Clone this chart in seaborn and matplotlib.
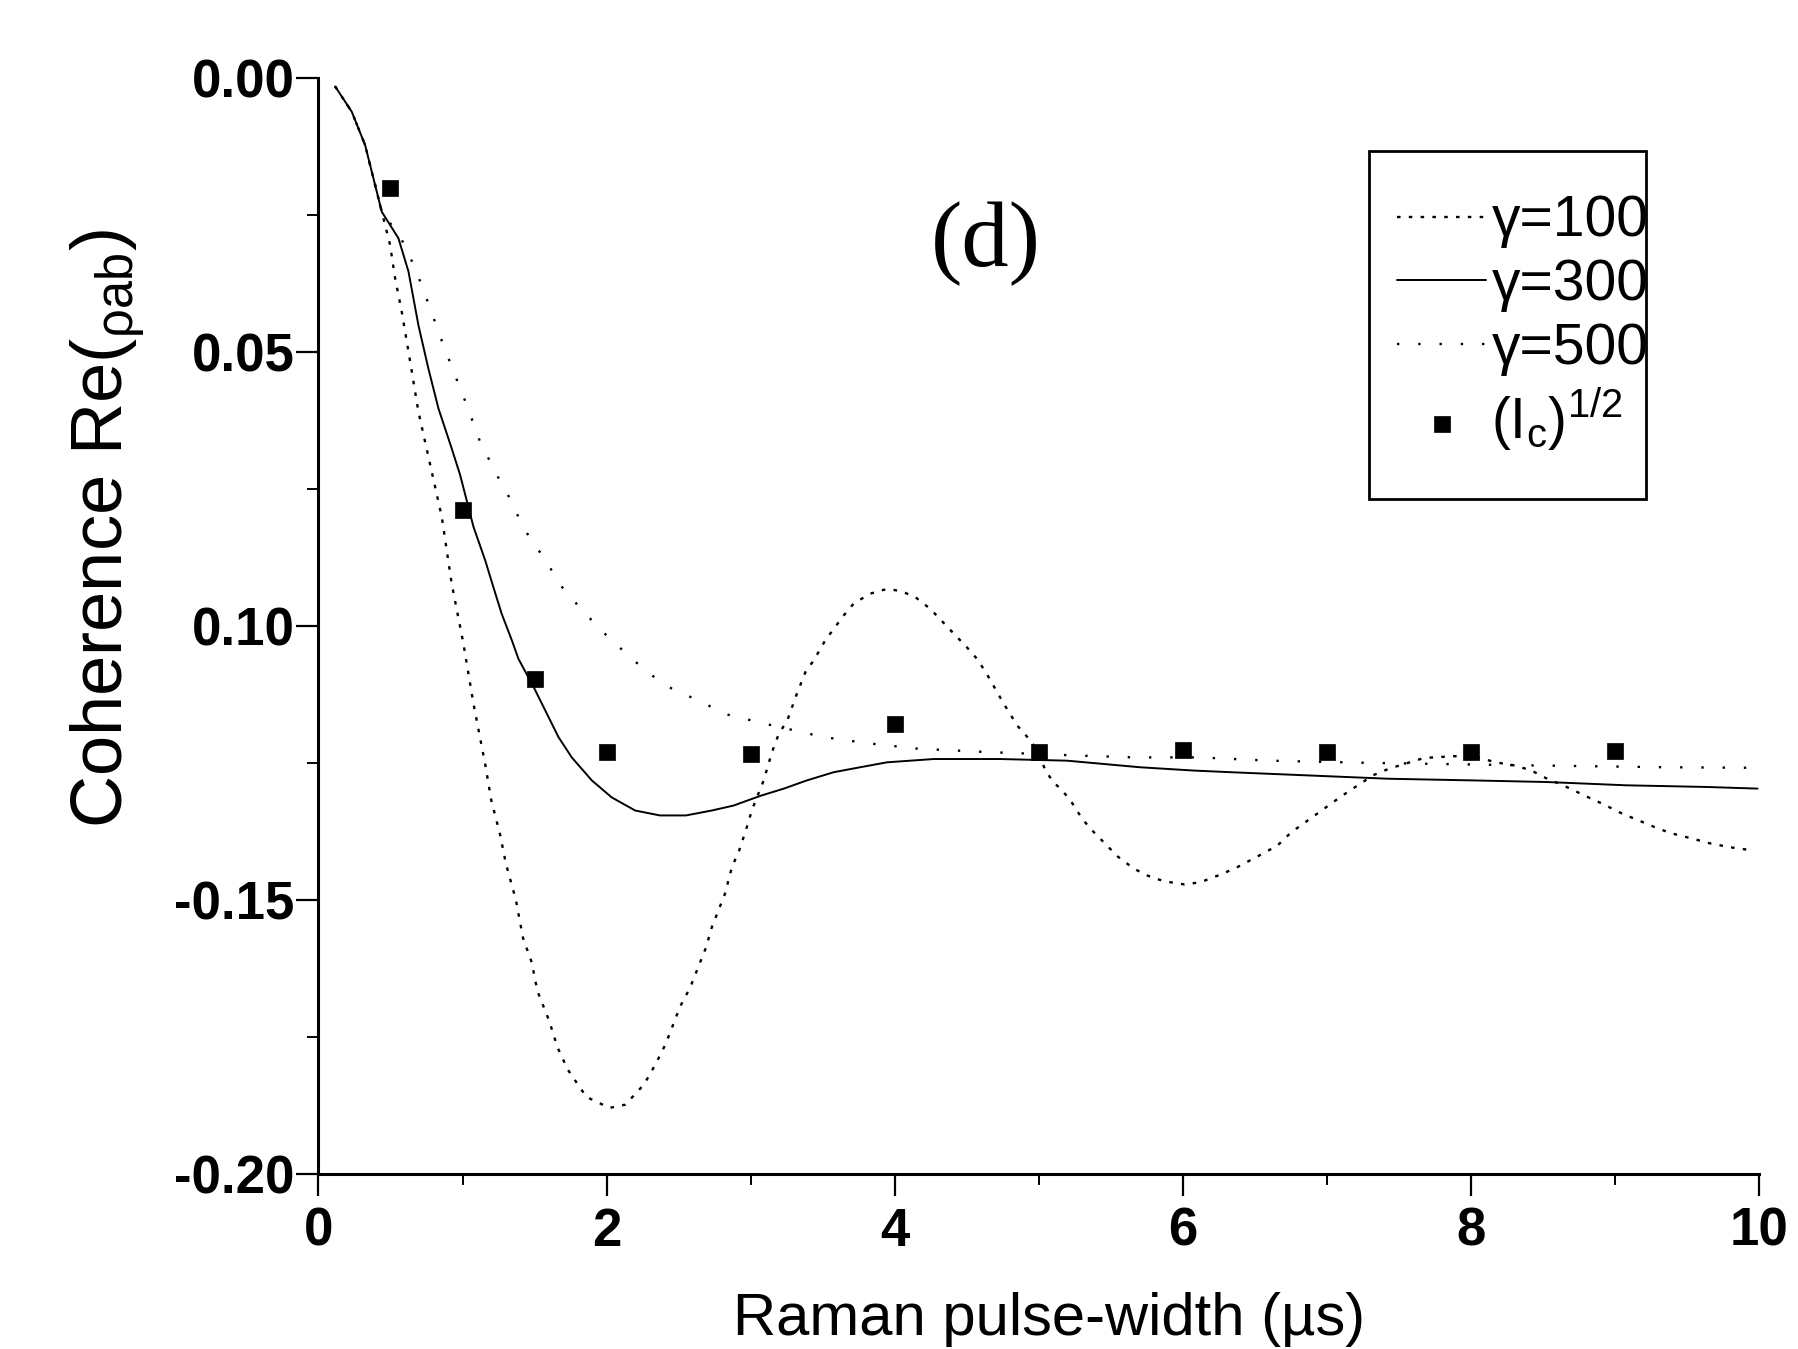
import numpy as np
import pandas as pd
import seaborn as sns
import matplotlib.pyplot as plt
from matplotlib.patches import Rectangle
from matplotlib.ticker import FixedLocator, FixedFormatter

# gamma = 100 (strongly oscillating curve)
t_g100 = [0.116, 0.231, 0.324, 0.382, 0.44, 0.497, 0.532, 0.578, 0.625, 0.694,
          0.775, 0.856, 0.925, 1.006, 1.076, 1.157, 1.20, 1.26, 1.30, 1.37,
          1.42, 1.48, 1.52, 1.60, 1.66, 1.73, 1.86, 2.02, 2.13, 2.26,
          2.34, 2.41, 2.51, 2.58, 2.69, 2.73, 2.82, 2.87, 2.92, 2.97,
          3.01, 3.09, 3.148, 3.195, 3.253, 3.32, 3.38, 3.437, 3.518, 3.645,
          3.715, 3.83, 3.923, 3.99, 4.06, 4.15, 4.247, 4.42, 4.50, 4.57,
          4.63, 4.756, 4.85, 4.93, 4.99, 5.045, 5.10, 5.16, 5.22, 5.30,
          5.357, 5.42, 5.547, 5.658, 5.755, 5.843, 5.913, 6.01, 6.12, 6.27,
          6.38, 6.53, 6.655, 6.75, 6.93, 7.04, 7.16, 7.22, 7.316, 7.426,
          7.536, 7.674, 7.867, 8.004, 8.17, 8.307, 8.418, 8.527, 8.638, 8.789,
          8.913, 9.05, 9.161, 9.27, 9.38, 9.53, 9.657, 9.795, 9.93]
re_g100 = [-0.0015, -0.0061, -0.0122, -0.0183, -0.0244, -0.0304, -0.0365, -0.0426, -0.0499, -0.0609,
           -0.0705, -0.0801, -0.0923, -0.1032, -0.1142, -0.1252, -0.1319, -0.1380, -0.1433, -0.1500,
           -0.1570, -0.1614, -0.1667, -0.1720, -0.1770, -0.1810, -0.1860, -0.1880, -0.1874, -0.1837,
           -0.1800, -0.1763, -0.1695, -0.1660, -0.1587, -0.1550, -0.1490, -0.1440, -0.1410, -0.1370,
           -0.1335, -0.1282, -0.1230, -0.1197, -0.1173, -0.1124, -0.1084, -0.1063, -0.1026, -0.0981,
           -0.0959, -0.0941, -0.0934, -0.0934, -0.0938, -0.0949, -0.0969, -0.1017, -0.1039, -0.1060,
           -0.1084, -0.1142, -0.1182, -0.1206, -0.1227, -0.1264, -0.1285, -0.1300, -0.1319, -0.1352,
           -0.1370, -0.1387, -0.1421, -0.1443, -0.1456, -0.1464, -0.1468, -0.1472, -0.1468, -0.1453,
           -0.1440, -0.1419, -0.1401, -0.1377, -0.1343, -0.1322, -0.1300, -0.1290, -0.1273, -0.1261,
           -0.1252, -0.1241, -0.1238, -0.1237, -0.1249, -0.1255, -0.1264, -0.1279, -0.1291, -0.1310,
           -0.1325, -0.1343, -0.1355, -0.1367, -0.1378, -0.1388, -0.1397, -0.1404, -0.1409]

# gamma = 300
t_g300 = [0.116, 0.231, 0.324, 0.382, 0.44, 0.555, 0.625, 0.694, 0.763, 0.833,
          0.925, 0.983, 1.076, 1.157, 1.214, 1.272, 1.342, 1.388, 1.50, 1.666,
          1.758, 1.897, 2.035, 2.198, 2.37, 2.55, 2.73, 2.88, 3.07, 3.23,
          3.39, 3.577, 3.76, 3.946, 4.27, 4.73, 5.195, 5.70, 6.07, 6.325,
          6.875, 7.426, 8.004, 8.527, 9.078, 9.63, 9.987]
re_g300 = [-0.0015, -0.0061, -0.0122, -0.0183, -0.0244, -0.0292, -0.0353, -0.0451, -0.0530, -0.0603,
           -0.0676, -0.0724, -0.0819, -0.0880, -0.0929, -0.0978, -0.1026, -0.1060, -0.1115, -0.1203,
           -0.1240, -0.1282, -0.1313, -0.1337, -0.1346, -0.1346, -0.1337, -0.1328, -0.1310, -0.1297,
           -0.1282, -0.1267, -0.1258, -0.1249, -0.1243, -0.1243, -0.1246, -0.1258, -0.1264, -0.1267,
           -0.1273, -0.1279, -0.1282, -0.1285, -0.1291, -0.1294, -0.1297]

# gamma = 500
t_g500 = [0.116, 0.231, 0.324, 0.382, 0.44, 0.567, 0.636, 0.706, 0.775, 0.85,
          0.937, 1.03, 1.122, 1.25, 1.33, 1.388, 1.457, 1.584, 1.666, 1.716,
          1.95, 2.175, 2.313, 2.417, 2.475, 2.65, 2.81, 3.09, 3.507, 3.807,
          4.155, 4.617, 5.31, 5.66, 6.11, 6.6, 7.29, 8.25, 9.354, 9.93]
re_g500 = [-0.0015, -0.0061, -0.0122, -0.0183, -0.0244, -0.0289, -0.0326, -0.0371, -0.0420, -0.0475,
           -0.0535, -0.0597, -0.0664, -0.0730, -0.0768, -0.0801, -0.0835, -0.0883, -0.0920, -0.0938,
           -0.1005, -0.1060, -0.1090, -0.1109, -0.1118, -0.1137, -0.1160, -0.1178, -0.1203, -0.1214,
           -0.1224, -0.1230, -0.1237, -0.1240, -0.1240, -0.1246, -0.1250, -0.1254, -0.1258, -0.1259]

# measured (I_c)^1/2 points
t_meas = [0.5, 1.0, 1.5, 2.0, 3.0, 4.0, 5.0, 6.0, 7.0, 8.0, 9.0]
re_meas = [-0.0201, -0.0789, -0.1096, -0.1230, -0.1233, -0.1179, -0.1230, -0.1227, -0.1230, -0.1230, -0.1228]

series_labels = ["γ=100", "γ=300", "γ=500", r"(I$_{\mathrm{c}}$)$^{1/2}$"]
xtick_vals = [0, 2, 4, 6, 8, 10]
xtick_labels = ["0", "2", "4", "6", "8", "10"]
ytick_vals = [0.0, -0.05, -0.10, -0.15, -0.20]
ytick_labels = ["0.00", "0.05", "0.10", "-0.15", "-0.20"]

sns.set_style("ticks")
plt.rcParams['font.family'] = ['Liberation Sans', 'DejaVu Sans']
plt.rcParams['mathtext.fontset'] = 'custom'
plt.rcParams['mathtext.rm'] = 'Liberation Sans'
plt.rcParams['mathtext.it'] = 'Liberation Sans:italic'
plt.rcParams['mathtext.bf'] = 'Liberation Sans:bold'
for key in ['text.color', 'axes.labelcolor', 'xtick.color', 'ytick.color', 'axes.edgecolor']:
    plt.rcParams[key] = 'black'

fig = plt.figure(figsize=(17.99, 13.49), dpi=100)
ax = fig.add_axes([0.177, 0.130, 0.801, 0.812])

sns.lineplot(x=t_g100, y=re_g100, ax=ax, color="black", lw=1.7, sort=False,
             estimator=None, linestyle=(0, (1.5, 3.5)), label=series_labels[0])
sns.lineplot(x=t_g300, y=re_g300, ax=ax, color="black", lw=1.4, sort=False,
             estimator=None, linestyle="-", label=series_labels[1])
sns.lineplot(x=t_g500, y=re_g500, ax=ax, color="black", lw=1.7, sort=False,
             estimator=None, linestyle=(0, (1, 8)), label=series_labels[2])
sns.scatterplot(x=t_meas, y=re_meas, ax=ax, color="black", marker="s", s=140,
                edgecolor="black", linewidth=0.5, label=series_labels[3], zorder=5)

ax.set_xlim(0, 10)
ax.set_ylim(-0.20, 0.0)
ax.xaxis.set_major_locator(FixedLocator(xtick_vals))
ax.xaxis.set_major_formatter(FixedFormatter(xtick_labels))
ax.xaxis.set_minor_locator(FixedLocator([1, 3, 5, 7, 9]))
ax.yaxis.set_major_locator(FixedLocator(ytick_vals))
ax.yaxis.set_major_formatter(FixedFormatter(ytick_labels))
ax.yaxis.set_minor_locator(FixedLocator([-0.025, -0.075, -0.125, -0.175]))

for side in ["top", "right"]:
    ax.spines[side].set_visible(False)
for side in ["left", "bottom"]:
    ax.spines[side].set_linewidth(2.2)
    ax.spines[side].set_color("black")

ax.tick_params(which="major", direction="out", length=16, width=1.6, colors="black")
ax.tick_params(which="minor", direction="out", length=8, width=1.4, colors="black")
ax.tick_params(axis="x", which="major", pad=8)
ax.tick_params(axis="y", which="major", pad=1)
for lab in ax.get_xticklabels() + ax.get_yticklabels():
    lab.set_fontsize(38)
    lab.set_fontweight("bold")

ax.set_xlabel("Raman pulse-width (µs)", fontsize=43)
ax.set_ylabel(r"Coherence Re($_{\mathrm{\rho ab}}$)", fontsize=52)
ax.xaxis.set_label_coords(0.507, -0.108)
ax.yaxis.set_label_coords(-0.119, 0.589)

ax.text(0.463, 0.849, "(d)", transform=ax.transAxes, ha="center", va="center",
        fontsize=68, family="Liberation Serif")

# legend box drawn as its own frame, entries overflow its right edge as in the original
fig.patches.append(Rectangle((1369 / 1799, 1 - 499 / 1349), 277 / 1799, 348 / 1349,
                             transform=fig.transFigure, fill=False,
                             edgecolor="black", linewidth=2.0, zorder=10))
leg = ax.legend(loc="upper left", bbox_to_anchor=(1369 / 1799, 1 - 166 / 1349),
                bbox_transform=fig.transFigure, frameon=False, fontsize=41,
                handlelength=1.55, borderpad=0.5, labelspacing=0.17,
                handletextpad=0.1, borderaxespad=0)

fig.savefig("out.png", dpi=100)
